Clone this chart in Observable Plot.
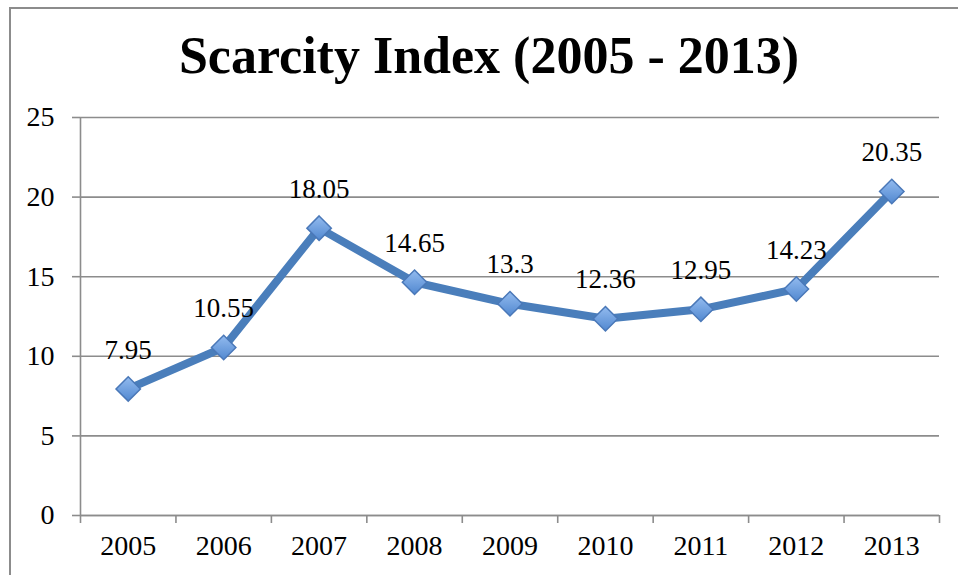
<!DOCTYPE html>
<html>
<head>
<meta charset="utf-8">
<script src="https://cdn.jsdelivr.net/npm/d3@7"></script>
<script src="https://cdn.jsdelivr.net/npm/@observablehq/plot@0.6"></script>
<style>
  html, body { margin: 0; padding: 0; background: #fff; }
  #wrap { position: relative; width: 958px; height: 575px; overflow: hidden; font-family: "Liberation Serif", serif; }
  #frame { position: absolute; left: 9px; top: 7px; width: 980px; height: 600px; border: 2px solid #8c8c8c; box-sizing: border-box; }
  #title { position: absolute; left: 0; top: 26px; width: 978px; text-align: center; font-size: 52px; font-weight: bold; color: #000; line-height: 60px; }
  #chart { position: absolute; left: 0; top: 0; }
  #chart svg, #chart svg text { font-family: "Liberation Serif", serif !important; }
</style>
</head>
<body>
<div id="wrap">
  <div id="frame"></div>
  <div id="chart"></div>
  <div id="title">Scarcity Index (2005 - 2013)</div>
</div>
<script>
const titleText = "Scarcity Index (2005 - 2013)";
const years = ["2005", "2006", "2007", "2008", "2009", "2010", "2011", "2012", "2013"];
const values = [7.95, 10.55, 18.05, 14.65, 13.3, 12.36, 12.95, 14.23, 20.35];
const valueLabels = ["7.95", "10.55", "18.05", "14.65", "13.3", "12.36", "12.95", "14.23", "20.35"];
const yTicks = [0, 5, 10, 15, 20, 25];

document.getElementById("title").textContent = titleText;

const data = years.map((y, i) => ({year: y, pos: i + 0.5, value: values[i], label: valueLabels[i]}));
const centers = years.map((y, i) => i + 0.5);
const bounds = d3.range(years.length + 1);

const gridColor = "#8c8c8c";
const ff = "Liberation Serif";

const chart = Plot.plot({
  width: 958,
  height: 575,
  marginLeft: 80,
  marginRight: 19,
  marginTop: 117,
  marginBottom: 60,
  style: {fontFamily: ff, fontSize: "28px", color: "#000", background: "transparent"},
  x: {type: "linear", domain: [0, years.length], label: null},
  y: {domain: [0, 25], label: null},
  marks: [
    () => {
      const defs = d3.create("svg:defs");
      const g = defs.append("linearGradient").attr("id", "markerGrad").attr("x1", "0").attr("y1", "0").attr("x2", "0").attr("y2", "1");
      g.append("stop").attr("offset", "0%").attr("stop-color", "#93bbef");
      g.append("stop").attr("offset", "100%").attr("stop-color", "#5188d0");
      return defs.node();
    },
    Plot.gridY(yTicks, {stroke: gridColor, strokeOpacity: 1, strokeWidth: 1.6}),
    Plot.axisY(yTicks, {tickSize: 8, tickPadding: 18, stroke: gridColor, strokeWidth: 1.6, fill: "#000", fontSize: 28, fontFamily: ff, label: null}),
    Plot.ruleX([0], {stroke: gridColor, strokeWidth: 1.6}),
    Plot.ruleY([0], {stroke: gridColor, strokeWidth: 1.6}),
    Plot.axisX(bounds, {tickSize: 8, stroke: gridColor, strokeWidth: 1.6, tickFormat: () => "", label: null}),
    Plot.axisX(centers, {tickSize: 0, tickPadding: 20, tickFormat: (d) => years[Math.round(d - 0.5)], fill: "#000", fontSize: 28, fontFamily: ff, label: null}),
    Plot.line(data, {x: "pos", y: "value", stroke: "#4a7ebb", strokeWidth: 8, strokeLinejoin: "round"}),
    Plot.dot(data, {x: "pos", y: "value", symbol: "diamond2", r: 11, fill: "url(#markerGrad)", stroke: "#4a78b8", strokeWidth: 1.5}),
    Plot.text(data, {x: "pos", y: "value", text: "label", dy: -39, fill: "#000", fontSize: 27, fontFamily: ff, lineAnchor: "middle"})
  ]
});
document.getElementById("chart").appendChild(chart);
</script>
</body>
</html>
